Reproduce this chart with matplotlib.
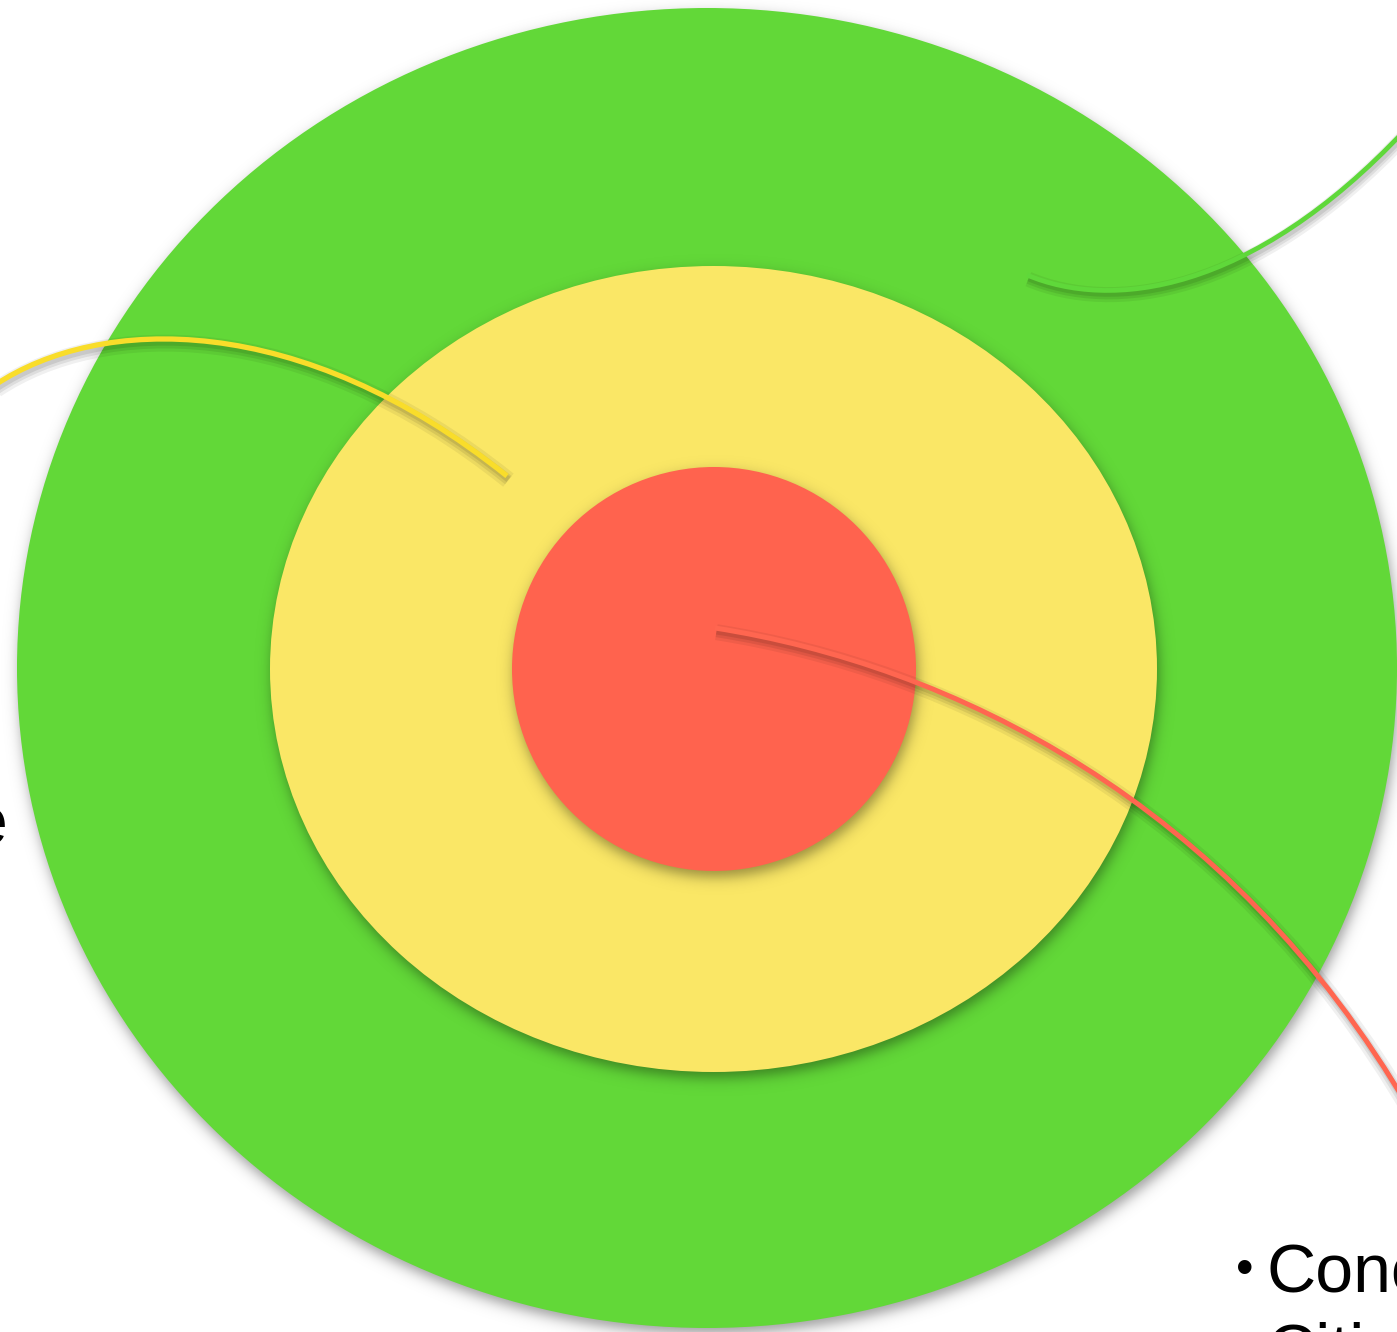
import numpy as np
import matplotlib
matplotlib.use("Agg")
import matplotlib.pyplot as plt
from matplotlib.patches import Ellipse, PathPatch
from matplotlib.path import Path
import matplotlib.patheffects as pe

W, H = 1397, 1332

# rings: (name, center x, center y, width, height, colour)
ring_names = ["outer", "middle", "inner"]
ring_cx = [707, 713.5, 714]
ring_cy = [668, 669, 669]
ring_w = [1380, 887, 404]
ring_h = [1320, 806, 404]
ring_colors = ["#62D838", "#FAE766", "#FF634E"]

# connector curves (cubic bezier control points)
curve_names = ["green", "yellow", "red"]
curve_pts = [
    [(1027, 275), (1110, 310), (1250, 295), (1405, 130)],
    [(-5, 385), (100, 315), (300, 310), (507, 476)],
    [(715, 628), (950, 665), (1230, 800), (1410, 1110)],
]
curve_colors = ["#5FD83A", "#F9DD2A", "#FF6650"]
curve_lw = [3.4, 3.8, 3.6]

# labels
label_right_lines = ["Concerned", "Citizens"]
label_left = "Influence"

fig = plt.figure(figsize=(W / 100, H / 100), dpi=100)
ax = fig.add_axes([0, 0, 1, 1])
ax.set_xlim(0, W)
ax.set_ylim(H, 0)
ax.axis("off")

yy, xx = np.mgrid[0:H, 0:W] + 0.5


def shadow_img(cx, cy, w, h, dx=2.0, dy=6.0, s=4.0, amax=0.38):
    a, b = w / 2.0, h / 2.0
    X = xx - (cx + dx)
    Y = yy - (cy + dy)
    u = np.sqrt((X / a) ** 2 + (Y / b) ** 2) + 1e-9
    f = u - 1.0
    g = np.sqrt((X / a ** 2) ** 2 + (Y / b ** 2) ** 2) / u + 1e-12
    dist = f / g
    alpha = amax / (1.0 + np.exp(np.clip(dist / s, -50, 50)))
    img = np.zeros((H, W, 4))
    img[..., 3] = alpha
    return img


z = 1
for cx, cy, w, h, col in zip(ring_cx, ring_cy, ring_w, ring_h, ring_colors):
    ax.imshow(shadow_img(cx, cy, w, h), extent=[0, W, H, 0], origin="upper",
              zorder=z, interpolation="bilinear")
    ax.add_patch(Ellipse((cx, cy), w, h, facecolor=col, edgecolor="none",
                         zorder=z + 1))
    z += 2

codes = [Path.MOVETO, Path.CURVE4, Path.CURVE4, Path.CURVE4]
for pts, col, lw in zip(curve_pts, curve_colors, curve_lw):
    path = Path(pts, codes)
    patch = PathPatch(path, facecolor="none", edgecolor=col, lw=lw,
                      capstyle="butt", zorder=z)
    patch.set_path_effects([
        pe.SimpleLineShadow(offset=(1.0, -3.0), shadow_color="k", alpha=0.06, linewidth=lw * 3.2),
        pe.SimpleLineShadow(offset=(1.0, -3.0), shadow_color="k", alpha=0.08, linewidth=lw * 2.0),
        pe.SimpleLineShadow(offset=(1.0, -2.5), shadow_color="k", alpha=0.09, linewidth=lw * 1.2),
        pe.Normal(),
    ])
    ax.add_patch(patch)
    z += 1

fam = ["Liberation Sans", "DejaVu Sans"]
base_y = 1292
line_gap = 79
for i, word in enumerate(label_right_lines):
    y = base_y + i * line_gap
    ax.text(1236, y - 8, "•", fontsize=36, family=fam, ha="left", va="baseline",
            color="black", zorder=z)
    ax.text(1266, y, word, fontsize=49, family=fam, ha="left", va="baseline",
            color="black", zorder=z)
ax.text(9, 843, label_left, fontsize=49, family=fam,
        ha="right", va="baseline", color="black", zorder=z)

fig.savefig("out.png", dpi=100, facecolor="white")
